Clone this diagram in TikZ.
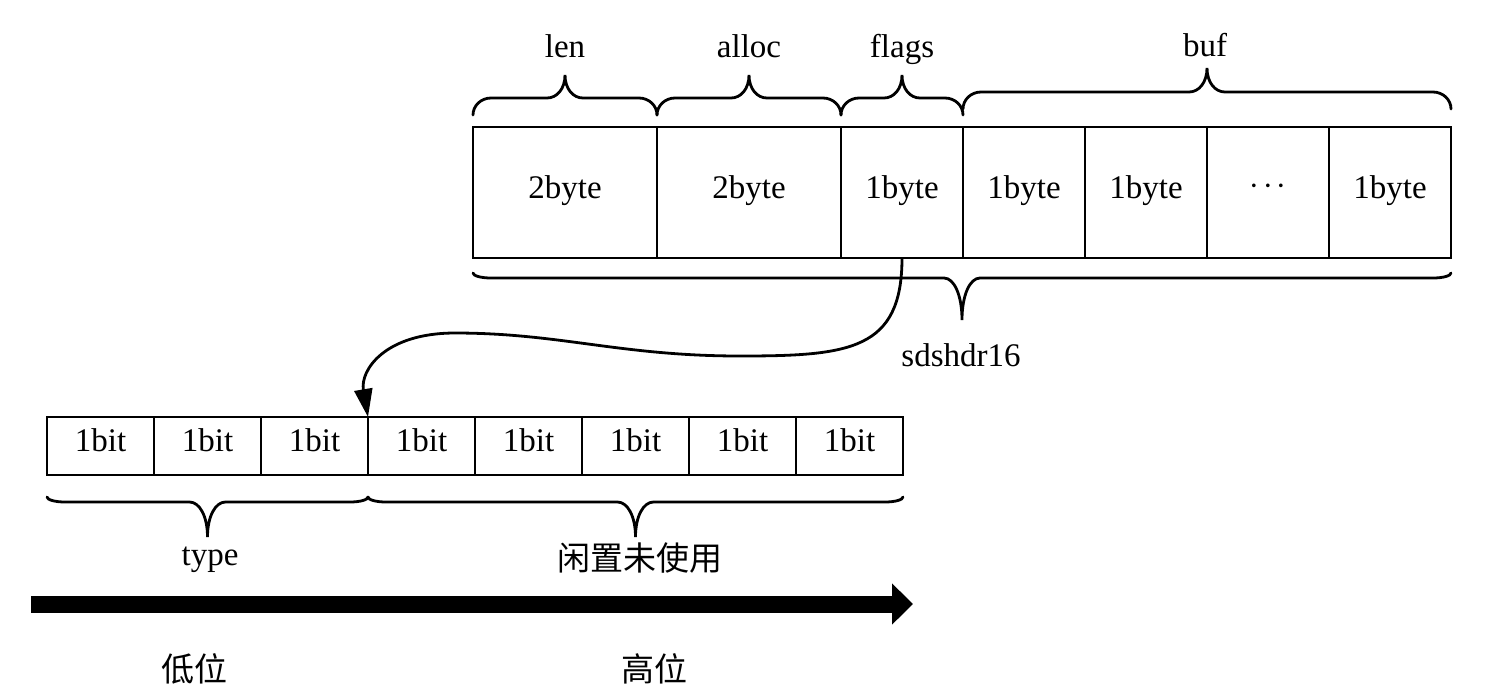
\documentclass[tikz,border=0pt]{standalone}
\usepackage{fontspec}
\setmainfont{Liberation Serif}
\newfontfamily\cjk{Noto Sans CJK SC}
\usetikzlibrary{arrows.meta,calc}

% brace between two anchors: #3 lift, #4 curl, #5 cusp (negative = downwards)
\newcommand{\curlybrace}[5]{%
  \draw[bracestroke]
    ($(#1)+(0,{-(#3)})$) .. controls +(0,{-0.55*(#4)}) and +(-10,0) .. ($(#1)+(18,{-(#3)-(#4)})$)
    -- ($(#1)!.5!(#2)+(-18,{-(#3)-(#4)})$) .. controls +(10,0) and +(0,{0.6*((#5)-(#4))}) .. ($(#1)!.5!(#2)+(0,{-(#3)-(#5)})$)
    .. controls +(0,{0.6*((#5)-(#4))}) and +(-10,0) .. ($(#1)!.5!(#2)+(18,{-(#3)-(#4)})$)
    -- ($(#2)+(-18,{-(#3)-(#4)})$) .. controls +(10,0) and +(0,{-0.55*(#4)}) .. ($(#2)+(0,{-(#3)})$);}

\tikzset{
  bytebox/.style={draw, line width=1.4pt, minimum height=65.5pt, inner sep=0pt, outer sep=0pt,
    text height=0.7em, text depth=0.12em},
  bitbox/.style={draw, line width=1.4pt, minimum width=53.5pt, minimum height=29pt, inner sep=0pt,
    outer sep=0pt, text height=0.7em, text depth=0.12em},
  bracestroke/.style={line width=1.4pt, line cap=round},
  fieldlabel/.style={anchor=base, inner sep=0pt},
  cjklabel/.style={inner sep=0pt, font=\fontsize{16.5}{20}\selectfont\cjk},
  linkline/.style={line width=1.4pt, -{Triangle[length=14pt,width=9pt]}},
}

\begin{document}
\begin{tikzpicture}[x=0.5pt, y=-0.5pt, font=\fontsize{16.5}{20}\selectfont]
\useasboundingbox (0,0) rectangle (1510,698);
% sdshdr16 layout
\node[bytebox, minimum width=92pt] (len) at (565,192.5) {2byte};
\node[bytebox, minimum width=92pt] (alloc) at (749,192.5) {2byte};
\node[bytebox, minimum width=61pt] (flags) at (902,192.5) {1byte};
\node[bytebox, minimum width=61pt] (bufa) at (1024,192.5) {1byte};
\node[bytebox, minimum width=61pt] (bufb) at (1146,192.5) {1byte};
\node[bytebox, minimum width=61pt] (bufdots) at (1268,192.5) {\raisebox{2pt}{${\cdotp}\mkern2mu{\cdotp}\mkern2mu{\cdotp}$}};
\node[bytebox, minimum width=61pt] (bufz) at (1390,192.5) {1byte};
% field braces
\curlybrace{len.north west}{len.north east}{12}{17}{40}
\curlybrace{alloc.north west}{alloc.north east}{12}{17}{40}
\curlybrace{flags.north west}{flags.north east}{12}{17}{40}
\curlybrace{bufa.north west}{bufz.north east}{18}{17}{41}
\curlybrace{len.south west}{bufz.south east}{-15}{-5}{-47}
\node[fieldlabel] (lenname) at (565,57) {len};
\node[fieldlabel] (allocname) at (749,57) {alloc};
\node[fieldlabel] (flagsname) at (902,57) {flags};
\node[fieldlabel] (bufname) at (1205,56) {buf};
\node[fieldlabel] (hdrname) at (961,366) {sdshdr16};
% flags bits
\node[bitbox] (b1) at (100.5,446) {1bit};
\node[bitbox] (b2) at (207.5,446) {1bit};
\node[bitbox] (b3) at (314.5,446) {1bit};
\node[bitbox] (b4) at (421.5,446) {1bit};
\node[bitbox] (b5) at (528.5,446) {1bit};
\node[bitbox] (b6) at (635.5,446) {1bit};
\node[bitbox] (b7) at (742.5,446) {1bit};
\node[bitbox] (b8) at (849.5,446) {1bit};
\curlybrace{b1.south west}{b3.south east}{-22}{-5}{-40}
\curlybrace{b4.south west}{b8.south east}{-22}{-5}{-40}
\node[fieldlabel] (typename) at (210,565) {type};
\node[cjklabel] (unusedname) at (640,558) {闲置未使用};
% flags -> bits
\draw[linkline] (flags.south) .. controls +(0,92) and +(110,0) .. (740,356)
  .. controls (620,356) and (560,333) .. (455,333)
  .. controls (385,333) and (360,370) .. (b4.north west);
% bit order
\coordinate (lowend) at (31,604);
\coordinate (highend) at (913,604);
\draw[line width=8.5pt, -{Triangle[length=10.5pt,width=20pt]}] (lowend) -- (highend);
\node[cjklabel] (lowname) at (194,669) {低位};
\node[cjklabel] (highname) at (654,669) {高位};
\end{tikzpicture}
\end{document}
